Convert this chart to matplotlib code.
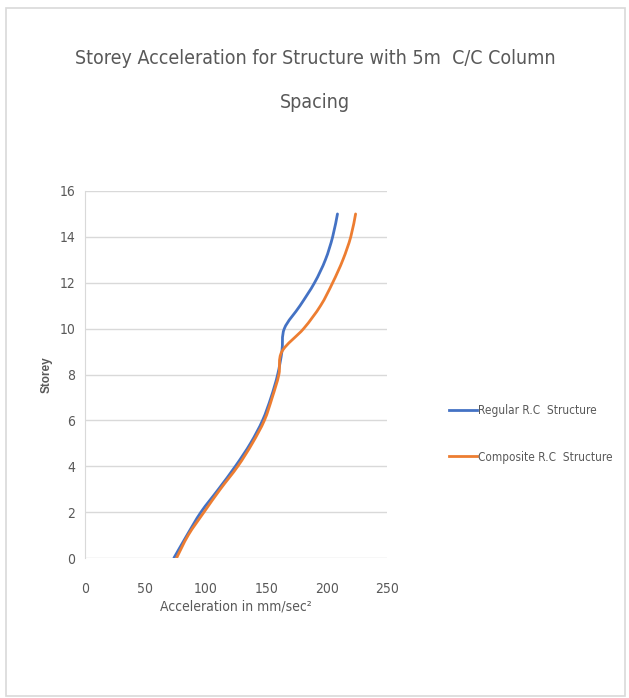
import matplotlib
matplotlib.use('Agg')
import matplotlib.pyplot as plt
from matplotlib import font_manager
from matplotlib.path import Path
from matplotlib.patches import PathPatch, Rectangle
from matplotlib.lines import Line2D
import numpy as np

# Storey levels and peak storey accelerations (mm/sec^2)
storeys = [0, 1, 2, 3, 4, 5, 6, 7, 8, 9, 10, 11, 12, 13, 14, 15]
regular_acc = [73.6, 84.5, 96.0, 110.5, 124.5, 137.0, 147.0, 154.0,
               159.5, 163.0, 165.0, 178.0, 190.0, 199.0, 205.0, 209.0]
composite_acc = [75.8, 85.5, 98.5, 112.0, 126.5, 138.5, 148.5, 155.0,
                 160.5, 163.0, 181.0, 195.0, 205.0, 213.5, 220.0, 224.0]
series_names = ['Regular R.C  Structure', 'Composite R.C  Structure']
x_ticks = [0, 50, 100, 150, 200, 250]
y_ticks = [0, 2, 4, 6, 8, 10, 12, 14, 16]

BLUE = '#4472C4'
ORANGE = '#ED7D31'
TEXT = '#595959'
GRID = '#D9D9D9'

# pick a condensed face if one is installed, else plain Liberation Sans
faces = font_manager.fontManager.ttflist
names = {f.name for f in faces}
cond = [f for f in faces if f.stretch in ('condensed', 'semi-condensed', 'extra-condensed')
        or 'Narrow' in f.name or 'Condensed' in f.name]
if 'Liberation Sans Narrow' in names:
    NARROW = {'family': 'Liberation Sans Narrow'}
elif cond:
    NARROW = {'family': cond[0].name, 'stretch': 'condensed'}
else:
    NARROW = {'family': 'Liberation Sans'}


def smooth_path(xs, ys):
    """Build a Catmull-Rom style bezier path through the points (like a smoothed line chart)."""
    pts = np.column_stack([xs, ys]).astype(float)
    n = len(pts)
    verts = [pts[0]]
    codes = [Path.MOVETO]
    for i in range(n - 1):
        p0 = pts[i - 1] if i > 0 else pts[i]
        p1 = pts[i]
        p2 = pts[i + 1]
        p3 = pts[i + 2] if i + 2 < n else pts[i + 1]
        c1 = p1 + (p2 - p0) / 6.0
        c2 = p2 - (p3 - p1) / 6.0
        verts += [c1, c2, p2]
        codes += [Path.CURVE4] * 3
    return Path(verts, codes)


fig = plt.figure(figsize=(6.29, 6.98), dpi=100)
ax = fig.add_axes([85 / 629, 1 - 558 / 698, 302 / 629, 367 / 698])

for xs, color in ((regular_acc, BLUE), (composite_acc, ORANGE)):
    patch = PathPatch(smooth_path(xs, storeys), facecolor='none', edgecolor=color,
                      linewidth=2.0, capstyle='round', joinstyle='round', zorder=3)
    ax.add_patch(patch)

ax.set_xlim(0, 250)
ax.set_ylim(0, 16)
ax.set_xticks(x_ticks)
ax.set_yticks(y_ticks)
ax.grid(True, axis='y', color=GRID, linewidth=1.0)
ax.set_axisbelow(True)
for side in ('top', 'right', 'bottom'):
    ax.spines[side].set_visible(False)
ax.spines['left'].set_color(GRID)
ax.tick_params(axis='both', length=0, colors=TEXT, labelsize=10)
ax.tick_params(axis='x', pad=17)
ax.tick_params(axis='y', pad=7)
for lbl in ax.get_xticklabels() + ax.get_yticklabels():
    lbl.set(**NARROW)

ax.set_xlabel('Acceleration in mm/sec²', fontsize=10, color=TEXT, labelpad=3, **NARROW)
ax.set_ylabel('Storey', fontsize=8.5, color=TEXT, family='Liberation Sans',
              fontweight='bold', labelpad=5)

fig.text(315 / 629, 1 - 58 / 698, 'Storey Acceleration for Structure with 5m  C/C Column',
         ha='center', va='center', fontsize=14, color=TEXT, **NARROW)
fig.text(315 / 629, 1 - 103 / 698, 'Spacing',
         ha='center', va='center', fontsize=14, color=TEXT, **NARROW)

handles = [Line2D([], [], color=BLUE, linewidth=2.0),
           Line2D([], [], color=ORANGE, linewidth=2.0)]
ax.legend(handles, series_names, loc='center left',
          bbox_to_anchor=(443 / 629, 1 - 434 / 698), bbox_transform=fig.transFigure,
          frameon=False, labelcolor=TEXT, prop=dict(size=8.5, **NARROW),
          handlelength=2.4, handletextpad=0.1, labelspacing=2.8, borderpad=0)

# light chart-area border
fig.add_artist(Rectangle((6 / 629, 2 / 698), 619 / 629, 688 / 698, transform=fig.transFigure,
                         facecolor='none', edgecolor=GRID, linewidth=1.2))

fig.savefig('out.png', dpi=100)
